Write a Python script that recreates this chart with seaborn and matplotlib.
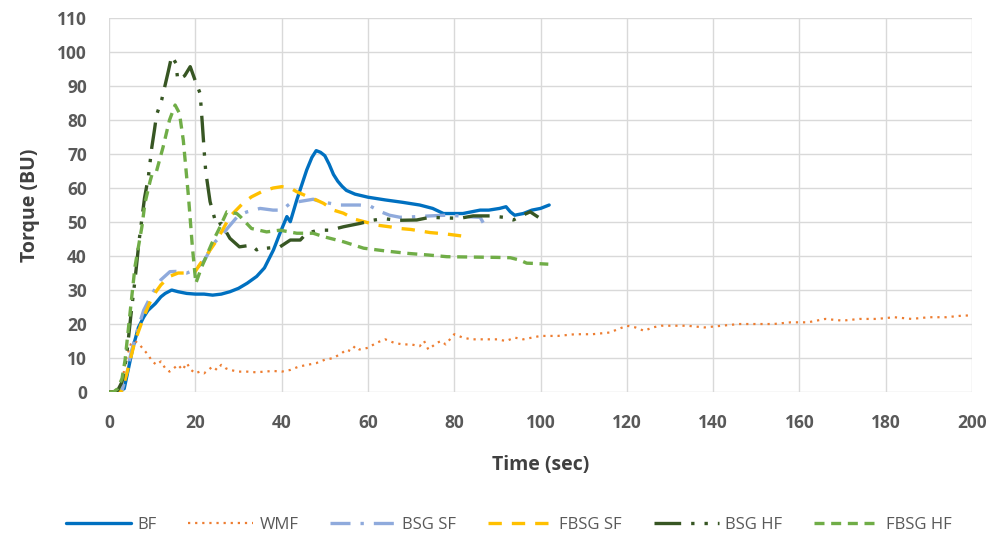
import numpy as np
import pandas as pd
import matplotlib
matplotlib.use("Agg")
import matplotlib.pyplot as plt
import seaborn as sns

# Torque curves (time in sec, torque in BU)
bf_time = [0, 2, 3.5, 4.5, 5.5, 6.8, 8, 9, 10.7, 12,
           13, 14.5, 16, 18, 20, 22, 24, 26, 28, 30,
           32, 34.2, 36, 38.1, 39.6, 41.2, 42, 43.5, 45.8, 47,
           48, 49, 50, 51, 52, 53, 54, 55, 57, 60,
           64, 68, 72, 75, 77.5, 80, 82, 84, 86, 88,
           90.5, 92, 93, 94, 96, 98, 100, 102]
bf_torque = [0, 0, 1, 7, 13, 19, 22, 24, 26, 28,
             29, 30, 29.5, 29, 28.8, 28.8, 28.5, 28.8, 29.5, 30.5,
             32, 34, 36.5, 41.8, 46.7, 51.6, 50.1, 56.5, 65.3, 69,
             71, 70.5, 69.5, 67, 64, 62, 60.5, 59.3, 58.2, 57.3,
             56.5, 55.8, 55, 54, 52.5, 52.5, 52.5, 53, 53.5, 53.5,
             54, 54.5, 53, 52, 52.5, 53.5, 54, 55]

wmf_time = [0, 2, 3, 4, 5, 6, 7, 8, 9, 10,
            11, 12, 13, 14, 15, 16, 17, 18, 19, 20,
            21, 22, 23, 24, 25, 26, 27, 28, 30, 32,
            34, 36, 38, 40, 42, 44, 46, 48, 50, 52,
            54, 55, 56, 57, 58, 60, 62, 64, 65, 66,
            68, 70, 72, 73, 74, 75, 76, 77, 78, 80,
            82, 84, 86, 88, 90, 92, 94, 96, 98, 100,
            104, 108, 112, 116, 118, 120, 122, 124, 126, 128,
            130, 134, 138, 142, 146, 150, 154, 158, 162, 166,
            170, 174, 178, 182, 186, 190, 194, 198, 200]
wmf_torque = [0, 0, 3, 10, 14, 15, 14, 12.5, 11, 9,
              8, 9, 7, 6, 7, 8, 6.5, 8.5, 6.5, 5.5,
              6, 5.5, 6.5, 7.5, 6.5, 8, 7, 6.5, 6, 6,
              5.8, 6, 6.2, 6, 6.5, 7.5, 8, 8.5, 9.5, 10,
              11.5, 12.5, 12, 13.5, 12.5, 13, 14.5, 15.5, 15, 14.5,
              14, 14, 13.5, 15, 12.5, 13.5, 14.5, 15, 14, 17,
              16, 15.5, 15.5, 15.5, 15.5, 15, 16, 15.5, 16, 16.5,
              16.5, 17, 17, 17.5, 18.5, 19.5, 19, 18, 19, 19.5,
              19.5, 19.5, 19, 19.5, 20, 20, 20, 20.5, 20.5, 21.5,
              21, 21.5, 21.5, 22, 21.5, 22, 22, 22.5, 22.5]

bsg_sf_time = [0, 2, 3, 4, 5, 6, 8, 10, 12, 14.1,
               16, 18, 20, 22, 24.2, 26, 28, 30, 32, 35,
               38, 40, 42, 44, 47.3, 49, 51.2, 53, 55.1, 58,
               60.5, 63, 65, 67.4, 70, 74.4, 78, 81.4, 84, 86, 86.7]
bsg_sf_torque = [0, 0, 0.5, 5, 11, 16, 24, 29, 33, 35.4,
                 35.5, 35, 36, 38.5, 43.7, 46, 49, 52, 53, 54,
                 53.5, 53.5, 55.5, 56, 56.7, 56, 55.5, 55, 55, 55,
                 54.7, 53, 52, 51.4, 51.5, 51.8, 52, 51.8, 51.5, 51.4, 49.8]

fbsg_sf_time = [0, 2, 3, 4, 5, 6, 8, 10, 12, 14,
                16, 18, 20, 21, 23, 25, 28, 31, 33, 35.5,
                38, 40, 42, 43.5, 46, 48, 49.7, 52, 54.3, 57,
                60, 62, 65, 67.4, 70, 74.4, 78, 81.7]
fbsg_sf_torque = [0, 0, 0.5, 5, 10, 15, 22, 28, 31.5, 34,
                  35, 35, 35.5, 37.5, 41, 44.7, 51.6, 55.5, 57.4, 59,
                  60, 60.4, 60, 58.9, 57.5, 56.5, 55.5, 53.5, 52.6, 50.8,
                  49.8, 49.1, 48.6, 48.1, 47.8, 46.9, 46.5, 45.9]

bsg_hf_time = [0, 1, 2, 3, 4, 5, 6, 7, 8.2, 9.1,
               9.9, 10.5, 11, 12.2, 13.7, 14.5, 15.5, 15.9, 17.5, 18.8,
               19.9, 21.1, 21.6, 22.1, 22.4, 22.9, 23.4, 24.9, 26, 28,
               30.2, 33, 34.2, 35.4, 36.5, 39.6, 42, 44.3, 45.8, 48.5,
               51.2, 54.3, 58.2, 61, 63.6, 67, 71.3, 74.4, 78, 81.3,
               84.4, 88.3, 91.4, 93.7, 95.5, 97.6, 99.5]
bsg_hf_torque = [0, 0, 0.5, 3, 10, 22, 33, 45, 57, 63.3,
                 72, 77, 81.5, 86, 94.2, 98.8, 96.7, 91.8, 93, 95.7,
                 91.8, 87.8, 79, 69.7, 64.8, 60.4, 56, 49, 49.6, 45.2,
                 42.7, 43.2, 41.8, 42.7, 42.3, 42.7, 44.7, 44.7, 46.7, 47.6,
                 47.6, 48.6, 49.6, 50.5, 51, 50.5, 50.6, 51.4, 51.2, 51.1,
                 51.8, 51.8, 51.4, 50.6, 51.8, 53, 51.4]

fbsg_hf_time = [0, 1, 2, 3, 3.7, 5, 6, 7.6, 8.3, 9.5,
                10, 11, 12.5, 14, 15.3, 16.3, 17.2, 18.4, 19.3, 20.1,
                21.5, 23.8, 25.5, 27.3, 29.6, 30.4, 33, 36.5, 39.6, 43.5,
                47.3, 49.7, 54.3, 59, 64, 69, 74, 78.3, 84, 89.8,
                93, 95.2, 96.8, 99, 101.8]
fbsg_hf_torque = [0, 0, 1, 4, 9.4, 25, 36.9, 48.6, 55.5, 62,
                  64.3, 65, 72, 80, 84.4, 82, 74, 57.4, 42.7, 32,
                  36.9, 43.7, 48, 53, 52.5, 51.6, 48.1, 47.1, 47.6, 46.7,
                  46.7, 45.7, 44.2, 42.3, 41.5, 40.8, 40.3, 39.8, 39.7, 39.6,
                  39.5, 38.8, 37.9, 37.8, 37.6]

series = [
    ("BF", bf_time, bf_torque, "#0070C0", "-", 2.4),
    ("WMF", wmf_time, wmf_torque, "#ED7D31", (0, (1, 2.2)), 1.6),
    ("BSG SF", bsg_sf_time, bsg_sf_torque, "#8FAADC", (0, (6, 3, 1, 3)), 2.4),
    ("FBSG SF", fbsg_sf_time, fbsg_sf_torque, "#FFC000", (0, (4, 3)), 2.4),
    ("BSG HF", bsg_hf_time, bsg_hf_torque, "#375623", (0, (8, 3, 1, 3, 1, 3)), 2.4),
    ("FBSG HF", fbsg_hf_time, fbsg_hf_torque, "#70AD47", (0, (3, 2)), 2.4),
]

sns.set_style("white")
plt.rcParams['font.family'] = ['Open Sans', 'DejaVu Sans']

fig = plt.figure(figsize=(10.01, 5.46), dpi=100)
ax = fig.add_axes([0.109, 0.282, 0.862, 0.685])

for name, t, q, col, ls, lw in series:
    sns.lineplot(x=t, y=q, ax=ax, color=col, linestyle=ls, linewidth=lw,
                 label=name, sort=False, estimator=None)

ax.set_xlim(0, 200)
ax.set_ylim(0, 110)
ax.set_xticks(np.arange(0, 201, 20))
ax.set_yticks(np.arange(0, 111, 10))
ax.grid(True, color="#D9D9D9", linewidth=1)
ax.set_axisbelow(True)
for s in ax.spines.values():
    s.set_visible(False)
ax.tick_params(axis="y", length=0, labelsize=12.5, labelcolor="#595959", pad=16)
ax.tick_params(axis="x", length=0, labelsize=12.5, labelcolor="#595959", pad=15.5)
for lab in ax.get_xticklabels() + ax.get_yticklabels():
    lab.set_fontweight("bold")
ax.set_xlabel("Time (sec)", fontsize=14, fontweight="bold", color="#404040", labelpad=17)
ax.set_ylabel("Torque (BU)", fontsize=14, fontweight="bold", color="#404040", labelpad=12)

ax.legend(loc="upper center", bbox_to_anchor=(0.463, -0.294), ncol=6, frameon=False,
          fontsize=12, handlelength=3.9, columnspacing=1.9, handletextpad=0.4,
          labelcolor="#595959")

fig.savefig("out.png", dpi=100)
